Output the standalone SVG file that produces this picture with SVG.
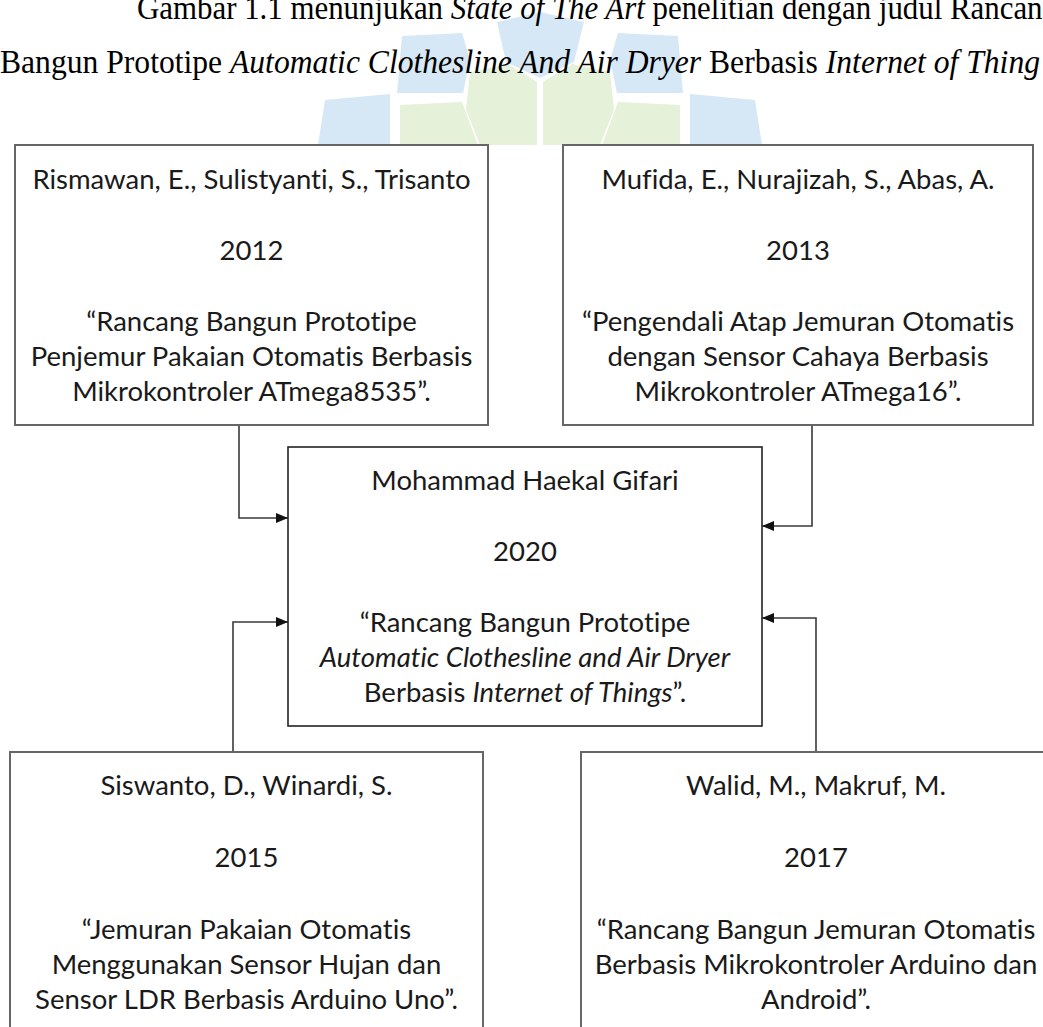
<svg xmlns="http://www.w3.org/2000/svg" width="1043" height="1027" viewBox="0 0 1043 1027">
<style>
.bg{fill:#ffffff}
.wb{fill:#d6e7f5}
.wg{fill:#e6f1da}
.title{font-family:"Liberation Serif","Times New Roman",serif;font-size:34px;fill:#000}
.it{font-style:italic}
.box{fill:#ffffff;stroke:#666;stroke-width:2}
.cbox{fill:#ffffff;stroke:#222;stroke-width:1.6}
.t{font-family:Lato,"Open Sans","Liberation Sans",sans-serif;font-size:27.5px;fill:#1a1a1a;text-anchor:middle;font-variant-ligatures:none}
.con{fill:none;stroke:#3a3a3a;stroke-width:1.6}
</style>
<defs>
<marker id="arr" markerUnits="userSpaceOnUse" markerWidth="13" markerHeight="11" refX="12" refY="5" orient="auto">
<path d="M0,0 L12,5 L0,10 z" fill="#111"/>
</marker>
</defs>
<rect class="bg" x="0" y="0" width="1043" height="1027"/>
<g id="watermark">
<polygon class="wb" points="497,22 540,12 584,22 574,62 540,78 506,62"/>
<polygon class="wb" points="402,36 462,33 470,60 463,93 397,93"/>
<polygon class="wb" points="678,36 618,33 610,60 617,93 683,93"/>
<polygon class="wg" points="470,72 508,64 537,82 537,145 480,145 466,110"/>
<polygon class="wg" points="610,72 572,64 543,82 543,145 600,145 614,110"/>
<polygon class="wg" points="400,105 462,102 478,145 400,145"/>
<polygon class="wg" points="680,105 618,102 602,145 680,145"/>
<polygon class="wb" points="325,100 390,94 390,145 318,145"/>
<polygon class="wb" points="755,100 690,94 690,145 762,145"/>
</g>
<g id="title">
<text class="title" x="137" y="19" textLength="921" lengthAdjust="spacingAndGlyphs">Gambar 1.1 menunjukan <tspan class="it">State of The Art</tspan> penelitian dengan judul Rancang</text>
<text class="title" x="0" y="73" textLength="1040" lengthAdjust="spacingAndGlyphs">Bangun Prototipe <tspan class="it">Automatic Clothesline And Air Dryer</tspan> Berbasis <tspan class="it">Internet of Thing</tspan></text>
</g>
<g id="connectors">
<path class="con" d="M239,425 V518 H288" marker-end="url(#arr)"/>
<path class="con" d="M812,425 V526 H762" marker-end="url(#arr)"/>
<path class="con" d="M233,752 V622 H288" marker-end="url(#arr)"/>
<path class="con" d="M816,752 V618 H762" marker-end="url(#arr)"/>
</g>
<g id="node-rismawan">
<rect class="box" x="15" y="145" width="473" height="280"/>
<text class="t" x="251.5" y="189">Rismawan, E., Sulistyanti, S., Trisanto</text>
<text class="t" x="251.5" y="260">2012</text>
<text class="t" x="251.5" y="331">“Rancang Bangun Prototipe</text>
<text class="t" x="251.5" y="366">Penjemur Pakaian Otomatis Berbasis</text>
<text class="t" x="251.5" y="401">Mikrokontroler ATmega8535”.</text>
</g>
<g id="node-mufida">
<rect class="box" x="563" y="145" width="470" height="280"/>
<text class="t" x="798" y="189">Mufida, E., Nurajizah, S., Abas, A.</text>
<text class="t" x="798" y="260">2013</text>
<text class="t" x="798" y="331">“Pengendali Atap Jemuran Otomatis</text>
<text class="t" x="798" y="366">dengan Sensor Cahaya Berbasis</text>
<text class="t" x="798" y="401">Mikrokontroler ATmega16”.</text>
</g>
<g id="node-gifari">
<rect class="cbox" x="288" y="447" width="474" height="279"/>
<text class="t" x="525" y="490">Mohammad Haekal Gifari</text>
<text class="t" x="525" y="561">2020</text>
<text class="t" x="525" y="632">“Rancang Bangun Prototipe</text>
<text class="t it" x="525" y="667">Automatic Clothesline and Air Dryer</text>
<text class="t" x="525" y="702">Berbasis <tspan class="it">Internet of Things</tspan>”.</text>
</g>
<g id="node-siswanto">
<rect class="box" x="10" y="752" width="473" height="300"/>
<text class="t" x="246.5" y="795">Siswanto, D., Winardi, S.</text>
<text class="t" x="246.5" y="867">2015</text>
<text class="t" x="246.5" y="939">“Jemuran Pakaian Otomatis</text>
<text class="t" x="246.5" y="974">Menggunakan Sensor Hujan dan</text>
<text class="t" x="246.5" y="1009">Sensor LDR Berbasis Arduino Uno”.</text>
</g>
<g id="node-walid">
<rect class="box" x="581" y="752" width="480" height="300"/>
<text class="t" x="816" y="795">Walid, M., Makruf, M.</text>
<text class="t" x="816" y="867">2017</text>
<text class="t" x="816" y="939">“Rancang Bangun Jemuran Otomatis</text>
<text class="t" x="816" y="974">Berbasis Mikrokontroler Arduino dan</text>
<text class="t" x="816" y="1009">Android”.</text>
</g>
</svg>
